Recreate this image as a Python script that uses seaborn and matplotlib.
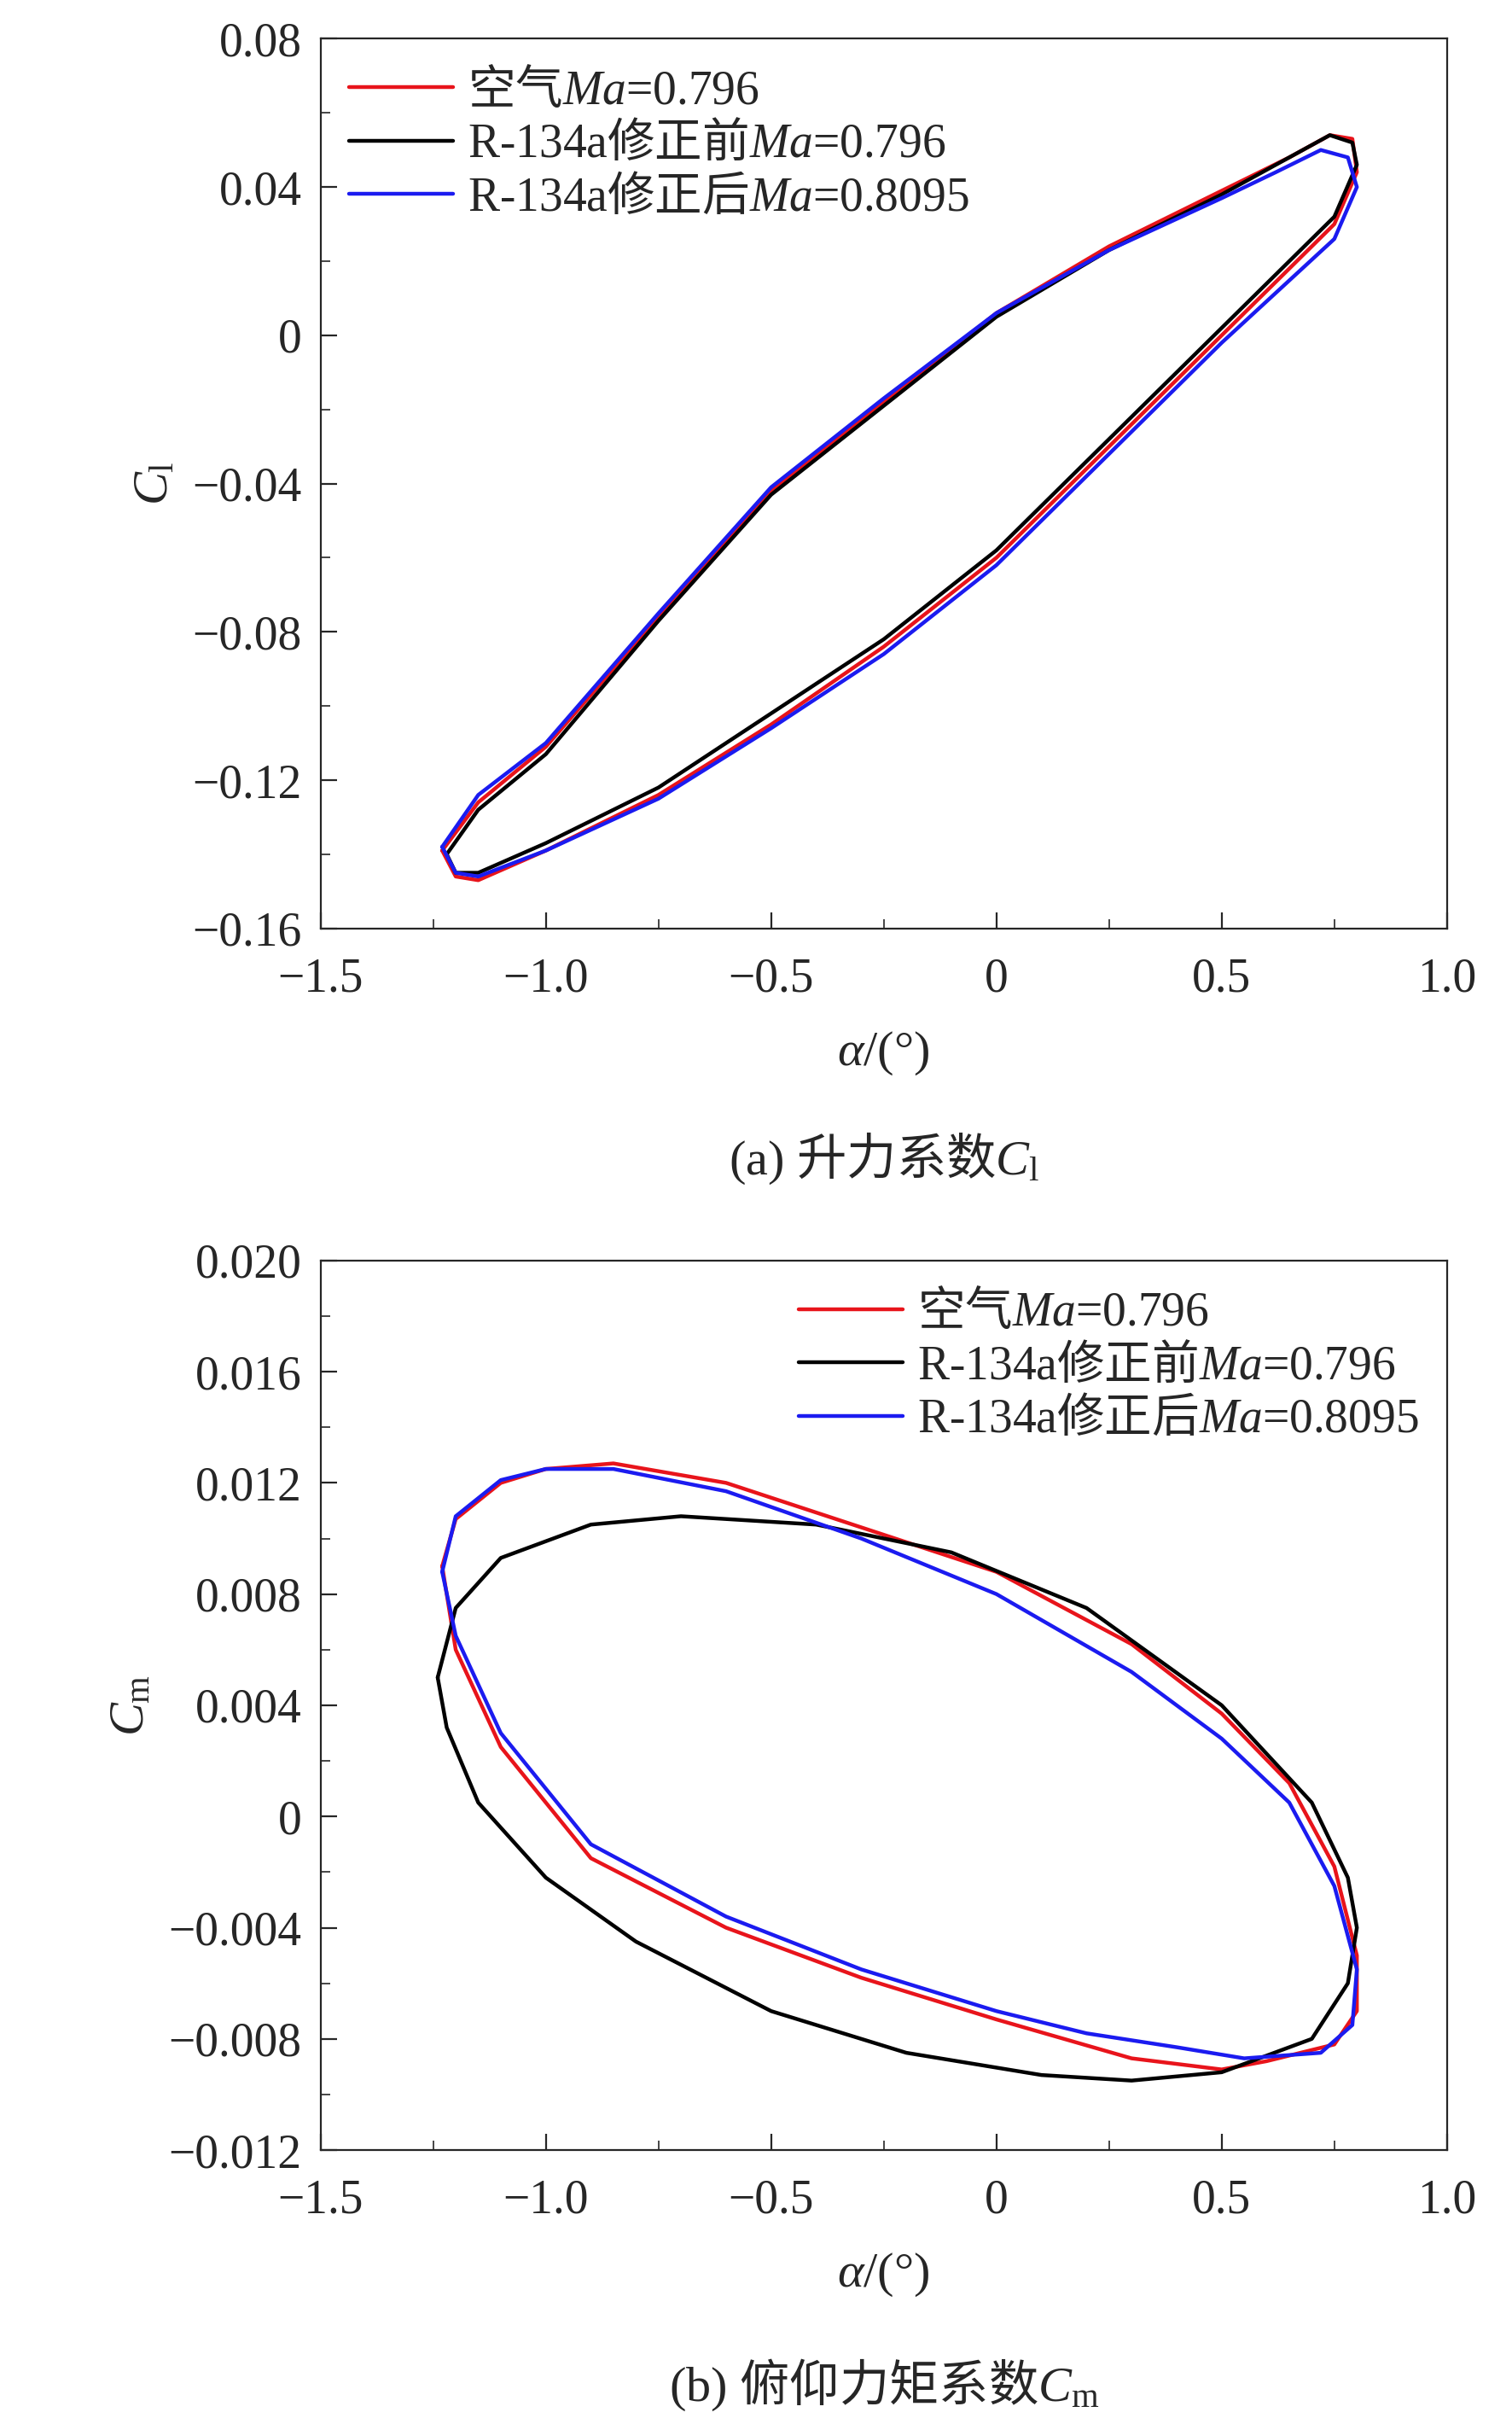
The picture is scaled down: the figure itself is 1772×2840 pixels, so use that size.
import matplotlib.pyplot as plt
import seaborn as sns
import numpy as np
import pandas as pd
from matplotlib.ticker import MultipleLocator

# lift coefficient loops (alpha, Cl)
cl_air_alpha = [-1.23, -1.15, -1.0, -0.75, -0.5, -0.25, 0.0, 0.25, 0.5, 0.65, 0.74, 0.79, 0.80,
                0.75, 0.5, 0.25, 0.0, -0.25, -0.5, -0.75, -1.0, -1.15, -1.20, -1.23]
cl_air = [-0.139, -0.126, -0.111, -0.076, -0.042, -0.018, 0.006, 0.024, 0.039, 0.048, 0.054, 0.053, 0.044,
          0.030, 0.000, -0.030, -0.060, -0.084, -0.105, -0.124, -0.139, -0.147, -0.146, -0.139]
cl_before_alpha = [-1.22, -1.15, -1.0, -0.75, -0.5, -0.25, 0.0, 0.25, 0.5, 0.65, 0.74, 0.79, 0.80,
                   0.75, 0.5, 0.25, 0.0, -0.25, -0.5, -0.75, -1.0, -1.15, -1.20, -1.22]
cl_before = [-0.140, -0.128, -0.113, -0.077, -0.043, -0.019, 0.005, 0.023, 0.038, 0.048, 0.054, 0.052, 0.046,
             0.032, 0.002, -0.028, -0.058, -0.082, -0.102, -0.122, -0.137, -0.145, -0.145, -0.140]
cl_after_alpha = [-1.23, -1.15, -1.0, -0.75, -0.5, -0.25, 0.0, 0.25, 0.5, 0.62, 0.72, 0.78, 0.80,
                  0.75, 0.5, 0.25, 0.0, -0.25, -0.5, -0.75, -1.0, -1.15, -1.20, -1.23]
cl_after = [-0.138, -0.124, -0.110, -0.075, -0.041, -0.017, 0.006, 0.023, 0.037, 0.044, 0.050, 0.048, 0.040,
            0.026, -0.002, -0.032, -0.062, -0.086, -0.106, -0.125, -0.139, -0.146, -0.145, -0.138]

# pitching moment loops (alpha, Cm)
cm_air_alpha = [-1.23, -1.2, -1.1, -1.0, -0.85, -0.6, -0.3, 0.0, 0.3, 0.5, 0.65, 0.75, 0.80, 0.80,
                0.75, 0.6, 0.5, 0.3, 0.0, -0.3, -0.6, -0.9, -1.1, -1.2, -1.23]
cm_air = [0.0090, 0.0107, 0.0120, 0.0125, 0.0127, 0.0120, 0.0104, 0.0088, 0.0062, 0.0037, 0.0012, -0.0018, -0.0050, -0.0070,
          -0.0082, -0.0088, -0.0091, -0.0087, -0.0073, -0.0058, -0.0040, -0.0015, 0.0025, 0.0060, 0.0090]
cm_before_alpha = [-1.24, -1.2, -1.1, -0.9, -0.7, -0.4, -0.1, 0.2, 0.5, 0.7, 0.78, 0.80,
                   0.78, 0.7, 0.5, 0.3, 0.1, -0.2, -0.5, -0.8, -1.0, -1.15, -1.22, -1.24]
cm_before = [0.0050, 0.0075, 0.0093, 0.0105, 0.0108, 0.0105, 0.0095, 0.0075, 0.0040, 0.0005, -0.0022, -0.0040,
             -0.0060, -0.0080, -0.0092, -0.0095, -0.0093, -0.0085, -0.0070, -0.0045, -0.0022, 0.0005, 0.0032, 0.0050]
cm_after_alpha = [-1.23, -1.2, -1.1, -1.0, -0.85, -0.6, -0.3, 0.0, 0.3, 0.5, 0.65, 0.75, 0.80, 0.79,
                  0.72, 0.55, 0.4, 0.2, 0.0, -0.3, -0.6, -0.9, -1.1, -1.2, -1.23]
cm_after = [0.0088, 0.0108, 0.0121, 0.0125, 0.0125, 0.0117, 0.0100, 0.0080, 0.0052, 0.0028, 0.0005, -0.0025, -0.0055, -0.0075,
            -0.0085, -0.0087, -0.0083, -0.0078, -0.0070, -0.0055, -0.0036, -0.0010, 0.0030, 0.0065, 0.0088]

labels = [r'$\mathsf{空气}Ma$=0.796', r'R-134a$\mathsf{修正前}Ma$=0.796', r'R-134a$\mathsf{修正后}Ma$=0.8095']
colors = ['#e8141b', 'black', '#1b1bf0']

sns.set_style('ticks')
plt.rcParams['font.family'] = ['Liberation Serif', 'Noto Sans CJK SC']
plt.rcParams['mathtext.fontset'] = 'custom'
plt.rcParams['mathtext.rm'] = 'Liberation Serif'
plt.rcParams['mathtext.it'] = 'Liberation Serif:italic'
plt.rcParams['mathtext.sf'] = 'Noto Sans CJK SC'  # chinese inside math strings
plt.rcParams['font.size'] = 20


def draw_loops(ax, curves, ylim, ystep, ylabel, legend_loc):
    for (a, c), lab, col in zip(curves, labels, colors):
        df = pd.DataFrame({'alpha': a, 'coef': c})
        sns.lineplot(data=df, x='alpha', y='coef', sort=False, estimator=None,
                     color=col, lw=1.6, label=lab, ax=ax)
    ax.set_xlim(-1.5, 1.0)
    ax.set_ylim(*ylim)
    ax.xaxis.set_major_locator(MultipleLocator(0.5))
    ax.xaxis.set_minor_locator(MultipleLocator(0.25))
    ax.yaxis.set_major_locator(MultipleLocator(ystep))
    ax.yaxis.set_minor_locator(MultipleLocator(ystep / 2))
    ax.tick_params(which='both', direction='in', labelsize=20)
    ax.tick_params(which='major', length=7)
    ax.tick_params(which='minor', length=4)
    ax.tick_params(axis='x', pad=12)
    ax.tick_params(axis='y', pad=8)
    ax.set_xlabel(r'$\alpha$/(°)', fontsize=21, labelpad=12)
    ax.set_ylabel(ylabel, fontsize=21, labelpad=6)
    ax.legend(loc=legend_loc, frameon=False, fontsize=20, handlelength=2.2,
              handletextpad=0.3, labelspacing=0.15, borderaxespad=0.2)


fig = plt.figure(figsize=(8.86, 14.2), dpi=200)
ax1 = fig.add_axes([0.212, 0.617, 0.745, 0.367])
ax2 = fig.add_axes([0.212, 0.113, 0.745, 0.367])

draw_loops(ax1, [(cl_air_alpha, cl_air), (cl_before_alpha, cl_before), (cl_after_alpha, cl_after)],
           (-0.16, 0.08), 0.04, r'$C_\mathrm{l}$', 'upper left')
ax1.set_yticks(np.arange(-0.16, 0.081, 0.04))
ax1.set_yticklabels(['−0.16', '−0.12', '−0.08', '−0.04', '0', '0.04', '0.08'])
draw_loops(ax2, [(cm_air_alpha, cm_air), (cm_before_alpha, cm_before), (cm_after_alpha, cm_after)],
           (-0.012, 0.020), 0.004, r'$C_\mathrm{m}$', 'upper right')
ax2.set_yticks(np.arange(-0.012, 0.0201, 0.004))
ax2.set_yticklabels(['−0.012', '−0.008', '−0.004', '0', '0.004', '0.008', '0.012', '0.016', '0.020'])
for ax in (ax1, ax2):
    ax.set_xticks([-1.5, -1.0, -0.5, 0, 0.5, 1.0])
    ax.set_xticklabels(['−1.5', '−1.0', '−0.5', '0', '0.5', '1.0'])

fig.text(0.585, 0.522, r'(a) $\mathsf{升力系数}C_\mathrm{l}$', ha='center', va='center', fontsize=21)
fig.text(0.585, 0.016, r'(b) $\mathsf{俯仰力矩系数}C_\mathrm{m}$', ha='center', va='center', fontsize=21)

plt.savefig('out.png', dpi=200)
plt.close()
